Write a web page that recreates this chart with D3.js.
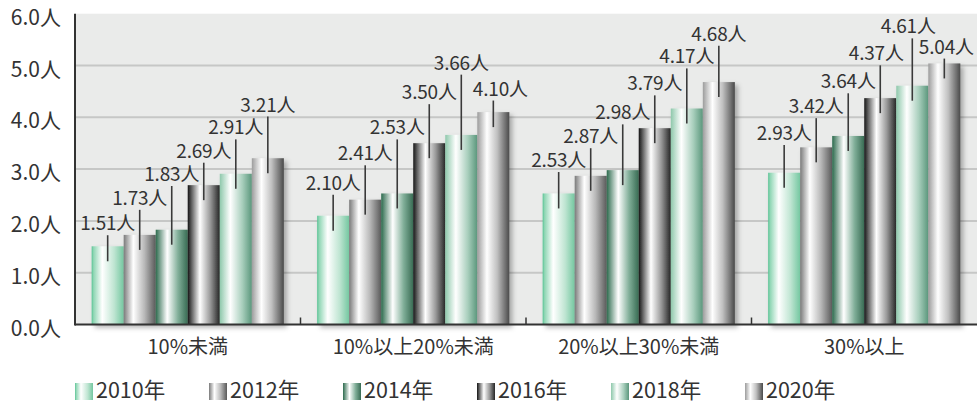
<!DOCTYPE html>
<html><head><meta charset="utf-8">
<script src="https://cdn.jsdelivr.net/npm/d3@7"></script>
<style>
html,body{margin:0;padding:0;background:#fff;}
svg{display:block;font-family:"Noto Sans CJK JP","Noto Sans",sans-serif;}
</style></head>
<body>
<svg id="chart" width="980" height="403"></svg>
<script>
// ---- data ----
const categories = ["10%未満", "10%以上20%未満", "20%以上30%未満", "30%以上"];
const years = ["2010年", "2012年", "2014年", "2016年", "2018年", "2020年"];
const values2010 = [1.51, 2.10, 2.53, 2.93];
const values2012 = [1.73, 2.41, 2.87, 3.42];
const values2014 = [1.83, 2.53, 2.98, 3.64];
const values2016 = [2.69, 3.50, 3.79, 4.37];
const values2018 = [2.91, 3.66, 4.17, 4.61];
const values2020 = [3.21, 4.10, 4.68, 5.04];
const yTicks = [0, 1, 2, 3, 4, 5, 6];
const unit = "人";

// ---- label layout (baseline level of each value label, in axis units; x nudge in px) ----
const labelLevel = [
  [1.82, 2.31, 2.77, 3.22, 3.67, 4.11],
  [2.60, 3.17, 3.67, 4.35, 4.92, 4.42],
  [3.04, 3.50, 3.96, 4.52, 5.04, 5.48],
  [3.56, 4.08, 4.56, 5.10, 5.62, 5.23]
];
const labelDx = [
  [0, 0, 0, 0, 0, 0],
  [0, 0, 0, 0, 0, 7],
  [0, 0, 0, 0, 0, 0],
  [0, 0, 0, -4, -4, 2]
];

const series = [values2010, values2012, values2014, values2016, values2018, values2020];

// gradient styles per year
const gradStops = [
  [[0,"#58c394"],[0.06,"#8fd6b4"],[0.33,"#ffffff"],[0.7,"#bfe5d2"],[1,"#74c7a0"]],
  [[0,"#7a7a7a"],[0.3,"#ffffff"],[0.65,"#b8b8b8"],[1,"#5a5a5a"]],
  [[0,"#2c6a4d"],[0.36,"#ffffff"],[0.7,"#80ae98"],[1,"#386b53"]],
  [[0,"#151515"],[0.38,"#ffffff"],[0.7,"#9a9a9a"],[1,"#262626"]],
  [[0,"#8ec8ab"],[0.33,"#ffffff"],[0.7,"#a9cfbd"],[1,"#5b977c"]],
  [[0,"#9c9c9c"],[0.3,"#ffffff"],[0.62,"#c0c0c0"],[1,"#4a4a4a"]]
];

const svg = d3.select("#chart");
const plot = {left: 75, right: 977, top: 13.7, bottom: 324.5};

const defs = svg.append("defs");
gradStops.forEach((stops, i) => {
  const g = defs.append("linearGradient").attr("id", "g" + i)
    .attr("x1", "0%").attr("x2", "100%").attr("y1", "0%").attr("y2", "0%");
  stops.forEach(s => g.append("stop").attr("offset", s[0]).attr("stop-color", s[1]));
});
const f = defs.append("filter").attr("id", "shadow")
  .attr("x", "-10%").attr("y", "-10%").attr("width", "130%").attr("height", "130%");
f.append("feDropShadow").attr("dx", 3).attr("dy", 3).attr("stdDeviation", 2.5)
  .attr("flood-color", "#000").attr("flood-opacity", 0.3);

const x0 = d3.scaleBand().domain(categories).range([plot.left, plot.right]).paddingInner(0).paddingOuter(0);
const x1 = d3.scaleBand().domain(years).range([0, x0.bandwidth()]).paddingInner(0).paddingOuter(0.52);
const y = d3.scaleLinear().domain([0, 6]).range([plot.bottom, plot.top]);

// background
svg.append("rect").attr("x", plot.left).attr("y", plot.top)
  .attr("width", plot.right - plot.left).attr("height", plot.bottom - plot.top)
  .attr("fill", "#eaebea");

// grid
svg.append("g").selectAll("line").data(yTicks.filter(t => t > 0 && t < 6)).join("line")
  .attr("x1", plot.left).attr("x2", plot.right)
  .attr("y1", d => y(d)).attr("y2", d => y(d))
  .attr("stroke", "#c6c7c6").attr("stroke-width", 2);

// y labels
svg.append("g").selectAll("text").data(yTicks).join("text")
  .attr("x", 61).attr("y", d => y(d) + 2)
  .attr("text-anchor", "end").attr("dominant-baseline", "central")
  .attr("font-size", 21).attr("fill", "#333")
  .text(d => d.toFixed(1) + unit);

// bars
const groups = svg.append("g").selectAll("g").data(categories).join("g")
  .attr("transform", c => `translate(${x0(c)},0)`)
  .attr("filter", "url(#shadow)");
groups.each(function(c, ci) {
  d3.select(this).selectAll("rect").data(years).join("rect")
    .attr("x", yr => x1(yr))
    .attr("width", x1.bandwidth())
    .attr("y", (yr, yi) => y(series[yi][ci]))
    .attr("height", (yr, yi) => y(0) - y(series[yi][ci]))
    .attr("fill", (yr, yi) => `url(#g${yi})`);
});

// axes lines
svg.append("line").attr("x1", plot.left).attr("x2", plot.right)
  .attr("y1", plot.bottom).attr("y2", plot.bottom).attr("stroke", "#333").attr("stroke-width", 2);
svg.append("line").attr("x1", plot.left).attr("x2", plot.left)
  .attr("y1", plot.top).attr("y2", plot.bottom + 1).attr("stroke", "#333").attr("stroke-width", 2);
svg.append("g").selectAll("line").data(categories.slice(1)).join("line")
  .attr("x1", c => x0(c)).attr("x2", c => x0(c))
  .attr("y1", plot.bottom - 7).attr("y2", plot.bottom)
  .attr("stroke", "#333").attr("stroke-width", 1.5);

// category labels
svg.append("g").selectAll("text").data(categories).join("text")
  .attr("x", c => x0(c) + x0.bandwidth() / 2).attr("y", 354)
  .attr("text-anchor", "middle").attr("font-size", 20).attr("fill", "#333")
  .text(c => c);

// value labels with leader lines
const lab = svg.append("g");
categories.forEach((c, ci) => {
  years.forEach((yr, yi) => {
    const v = series[yi][ci];
    const cx = x0(c) + x1(yr) + x1.bandwidth() / 2;
    const by = y(labelLevel[ci][yi]);
    lab.append("line").attr("x1", cx).attr("x2", cx)
      .attr("y1", by + 5).attr("y2", y(v) + 15)
      .attr("stroke", "#3a3a3a").attr("stroke-width", 1.6);
    lab.append("text").attr("x", cx + labelDx[ci][yi]).attr("y", by)
      .attr("text-anchor", "middle").attr("font-size", 19).attr("fill", "#333")
      .attr("letter-spacing", -0.2)
      .text(v.toFixed(2) + unit);
  });
});

// legend
const leg = svg.append("g");
years.forEach((yr, i) => {
  const lx = 75 + i * 134;
  leg.append("rect").attr("x", lx).attr("y", 383).attr("width", 18).attr("height", 17)
    .attr("fill", `url(#g${i})`);
  leg.append("text").attr("x", lx + 21).attr("y", 397.5)
    .attr("font-size", 21.5).attr("fill", "#333").text(yr);
});
</script>
</body></html>
